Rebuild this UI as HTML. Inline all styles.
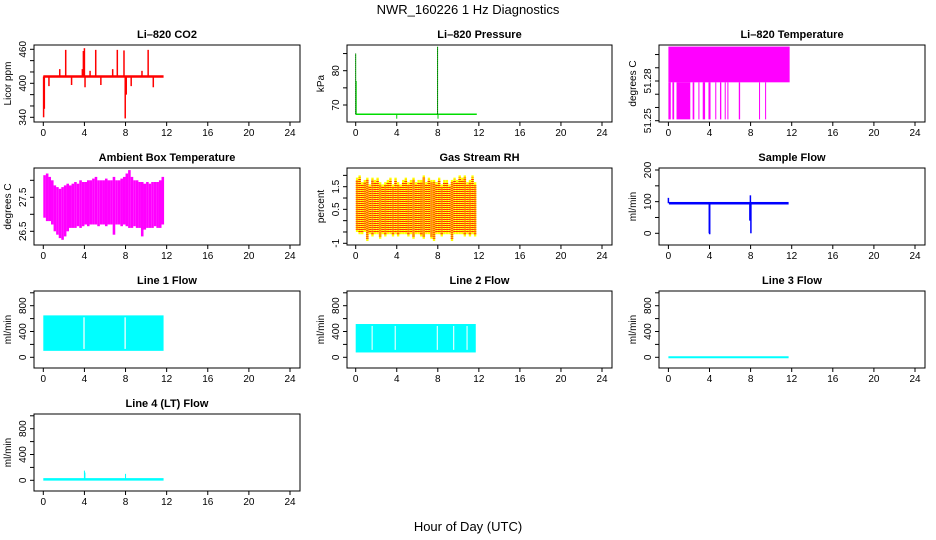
<!DOCTYPE html>
<html><head><meta charset="utf-8">
<style>
body{margin:0;background:#fff}
svg{display:block;font-family:"Liberation Sans",sans-serif}
</style></head>
<body>
<svg id="c" width="936" height="540" viewBox="0 0 936 540">
<text x="468" y="14" text-anchor="middle" font-size="13">NWR_160226  1 Hz Diagnostics</text>
<text x="468" y="531" text-anchor="middle" font-size="13">Hour of Day (UTC)</text>
</svg>
<script>
// ---- data ----
const hourTicks = [0,4,8,12,16,20,24];
const co2Base = 412, co2End = 11.7;
const co2SpikeHours = [2.18,3.9,4.0,5.1,7.2,7.85,10.2,1.6,3.8,4.55,6.75,9.6,0.03,0.1,0.55,2.75,4.06,5.6,7.97,8.07,8.55,10.7];
const co2SpikeValues = [459,457,462,459,459,458,459,425,425,422,425,422,340,355,395,397,393,397,338,380,395,393];
const presBase = 67.3, presEnd = 11.8;
const presSpikeHours = [0.0,0.05,4.0,7.98,8.02];
const presSpikeValues = [85,77,66,87,66];
const tempTop = 51.306, tempBand = 51.279, tempEnd = 11.8, tempLow = 51.251;
const tempDropStart = [0,0.39,0.79,2.36,2.92,3.34,3.9,4.56,5.02,5.48,5.74,6.85,8.82,9.41];
const tempDropEnd =   [0.23,0.56,2.13,2.52,2.97,3.57,4.1,4.61,5.15,5.52,5.79,6.98,8.86,9.45];
const binHours = [0,0.25,0.5,0.75,1,1.25,1.5,1.75,2,2.25,2.5,2.75,3,3.25,3.5,3.75,4,4.25,4.5,4.75,5,5.25,5.5,5.75,6,6.25,6.5,6.75,7,7.25,7.5,7.75,8,8.25,8.5,8.75,9,9.25,9.5,9.75,10,10.25,10.5,10.75,11,11.25,11.5];
const ambMax = [28.15,28.2,28.1,28.0,27.85,27.8,27.75,27.8,27.85,27.9,27.85,27.9,27.95,27.9,28.0,27.95,27.95,28.0,28.0,28.05,28.1,28.0,28.0,28.0,28.05,28.0,28.0,28.1,28.0,28.0,28.05,28.1,28.2,28.3,28.1,28.0,28.0,27.95,27.95,27.9,27.95,27.9,27.95,27.95,27.95,28.0,28.1];
const ambMin = [26.9,26.8,26.8,26.7,26.5,26.4,26.3,26.25,26.35,26.5,26.6,26.6,26.6,26.65,26.6,26.65,26.7,26.65,26.7,26.7,26.7,26.65,26.7,26.7,26.65,26.7,26.7,26.4,26.7,26.7,26.65,26.7,26.65,26.6,26.6,26.65,26.6,26.6,26.35,26.55,26.6,26.6,26.6,26.65,26.6,26.6,26.7];
const rhMax = [1.9,2.0,1.7,1.8,1.9,1.6,1.9,1.8,1.9,1.7,1.6,1.7,1.8,1.9,1.6,1.9,1.7,1.6,1.8,1.9,1.7,1.8,1.9,1.7,1.8,1.8,2.0,1.7,1.9,1.8,1.8,1.7,1.9,1.6,1.8,1.8,1.6,1.8,1.9,1.8,2.0,1.9,2.0,1.7,1.8,2.0,1.7];
const rhMin = [-0.5,-0.6,-0.6,-0.5,-0.9,-0.6,-0.7,-0.6,-0.6,-0.8,-0.6,-0.7,-0.6,-0.6,-0.7,-0.6,-0.7,-0.6,-0.6,-0.6,-0.7,-0.6,-0.8,-0.6,-0.6,-0.7,-0.8,-0.6,-0.6,-0.8,-0.9,-0.6,-0.6,-0.7,-0.6,-0.6,-0.6,-0.9,-0.6,-0.6,-0.6,-0.6,-0.7,-0.6,-0.7,-0.6,-0.7];
const sampleBase = 95, sampleEnd = 11.7;
const sampleSpikeHours = [0.0,3.98,4.02,7.93,7.98,8.03];
const sampleSpikeValues = [112,0,-3,40,120,0];
const line1Min = 100, line1Max = 650, line1End = 11.7;
const line1Gaps = [3.9,7.9];
const line2Min = 75, line2Max = 516, line2End = 11.7;
const line2Gaps = [1.55,3.8,7.9,9.5,10.8];
const line3Value = 0, line3End = 11.7;
const line4Value = 15, line4End = 11.7;
const line4SpikeHours = [4.0,4.05,8.0];
const line4SpikeValues = [150,120,100];

// ---- layout ----
const svg = document.getElementById('c');
const NS = 'http://www.w3.org/2000/svg';
const colBox = [[34,300],[347,612],[659,925]];
const colX0 = [43.3,355.7,668.4];
const colX24 = [290,602,915];
function mk(tag, attrs, parent){
  const e = document.createElementNS(NS, tag);
  for (const k in attrs) e.setAttribute(k, attrs[k]);
  (parent||svg).appendChild(e);
  return e;
}
function panel(col,row,name,title,ylab,yv1,yp1,yv2,yp2,ticks,labels){
  const top = 45 + row*123, bot = 122 + row*123;
  const [bl,br] = colBox[col];
  const g = mk('g',{});
  
  
  const x = h => colX0[col] + (colX24[col]-colX0[col])*h/24;
  const dy = yp2 + row*123, cy = yp1 + row*123;
  const y = v => cy + (v-yv1)*(dy-cy)/(yv2-yv1);
  const t = mk('text',{x:(bl+br)/2,y:top-7,'text-anchor':'middle','font-size':'11','font-weight':'bold'},g);
  t.textContent = title;
  
  
  const yl = mk('text',{x:0,y:0,'text-anchor':'middle','font-size':'10',transform:`translate(${bl-23},${(top+bot)/2}) rotate(-90)`},g);
  yl.textContent = ylab;
  
  
  const plot = mk('g',{},g);
  
  
  const box = mk('rect',{x:bl,y:top,width:br-bl,height:bot-top,fill:'none',stroke:'#000','stroke-width':1},g);
  
  
  mk('line',{x1:x(0),x2:x(24),y1:bot,y2:bot,stroke:'#000'},g);
  hourTicks.forEach(h=>{
    mk('line',{x1:x(h),x2:x(h),y1:bot,y2:bot+4,stroke:'#000'},g);
    const tl = mk('text',{x:x(h),y:bot+14,'text-anchor':'middle','font-size':'10'},g);
    tl.textContent = h;
    
    
  });
  mk('line',{x1:bl,x2:bl,y1:y(ticks[0]),y2:y(ticks[ticks.length-1]),stroke:'#000'},g);
  ticks.forEach(v=>mk('line',{x1:bl-4,x2:bl,y1:y(v),y2:y(v),stroke:'#000'},g));
  labels.forEach(v=>{
    const tl = mk('text',{x:0,y:0,'text-anchor':'middle','font-size':'10',transform:`translate(${bl-8},${y(v)}) rotate(-90)`},g);
    tl.textContent = v;
    
    
  });
  return {x,y,plot};
}
function vline(p,h,v1,v2,color,w){
  return mk('line',{x1:p.x(h),x2:p.x(h),y1:p.y(v1),y2:p.y(v2),stroke:color,'stroke-width':w||1},p.plot);
}
function hseg(p,h1,h2,v,color,w){
  return mk('line',{x1:p.x(h1),x2:p.x(h2),y1:p.y(v),y2:p.y(v),stroke:color,'stroke-width':w||1},p.plot);
}
function block(p,h1,h2,v1,v2,color){
  return mk('rect',{x:p.x(h1),y:Math.min(p.y(v1),p.y(v2)),width:p.x(h2)-p.x(h1),height:Math.abs(p.y(v2)-p.y(v1)),fill:color},p.plot);
}

// CO2
let p = panel(0,0,'co2','Li\u2013820 CO2','Licor ppm',340,117.3,460,49.3,[340,360,380,400,420,440,460],[340,400,460]);
hseg(p,0,co2End,co2Base,'red',2.5);
co2SpikeHours.forEach((h,i)=>vline(p,h,co2Base,co2SpikeValues[i],'red',1.5));
// Pressure
p = panel(1,0,'pressure','Li\u2013820 Pressure','kPa',70,105,80,70.7,[70,75,80,85],[70,80]);
hseg(p,0,presEnd,presBase,'#00dd00',1.5);
presSpikeHours.forEach((h,i)=>{vline(p,h,presBase,presSpikeValues[i],'#00cc00',1);});
vline(p,presSpikeHours[3],presBase,presSpikeValues[3],'#000',0.6).setAttribute('stroke-dasharray','1,1');
vline(p,presSpikeHours[0],presBase,presSpikeValues[0],'#000',0.6).setAttribute('stroke-dasharray','1,1');
// Li-820 temperature
p = panel(2,0,'li820-temperature','Li\u2013820 Temperature','degrees C',51.25,120.7,51.28,81,[51.25,51.26,51.27,51.28,51.29,51.30],[51.25,51.28]);
block(p,0,tempEnd,tempBand,tempTop,'#ff00ff');
tempDropStart.forEach((h,i)=>block(p,h,Math.max(tempDropEnd[i],h+0.1),tempLow,tempBand,'#ff00ff'));
// Ambient
p = panel(0,1,'ambient-temperature','Ambient Box Temperature','degrees C',27.5,197.3-123,26.5,231.3-123,[26.5,27.0,27.5,28.0],[26.5,27.5]);
binHours.forEach((h,i)=>block(p,h,h+0.25,ambMin[i],ambMax[i],'#ff00ff'));
// RH
p = panel(1,1,'gas-stream-rh','Gas Stream RH','percent',1.5,186.7-123,-1.0,243.3-123,[-1.0,-0.5,0,0.5,1.0,1.5,2.0],[-1.0,0.5,1.5]);
binHours.forEach((h,i)=>block(p,h+0.02,h+0.25,rhMin[i],rhMax[i],'#ffff00'));
binHours.forEach((h,i)=>{for(let k=0;k<4;k++){const l=vline(p,h+0.04+k*0.06,rhMin[i]+0.1,rhMax[i]-0.1,'#ff3000',0.8);l.setAttribute('stroke-dasharray','1,1');}});
// Sample flow
p = panel(2,1,'sample-flow','Sample Flow','ml/min',0,233.3-123,200,170-123,[0,50,100,150,200],[0,100,200]);
block(p,0.05,sampleEnd,sampleBase-4,sampleBase+4,'#0000ff');
sampleSpikeHours.forEach((h,i)=>vline(p,h,sampleBase,sampleSpikeValues[i],'#0000ff',1.5));
// Flows
const flowTicks=[0,200,400,600,800,1000], flowLabels=[0,400,800];
p = panel(0,2,'line1-flow','Line 1 Flow','ml/min',0,357.3-246,800,305.7-246,flowTicks,flowLabels);
block(p,0,line1End,line1Min,line1Max,'#00ffff');
line1Gaps.forEach(h=>block(p,h,h+0.12,line1Min+30,line1Max-30,'#fff'));
p = panel(1,2,'line2-flow','Line 2 Flow','ml/min',0,357.3-246,800,305.7-246,flowTicks,flowLabels);
block(p,0,line2End,line2Min,line2Max,'#00ffff');
line2Gaps.forEach(h=>block(p,h,h+0.1,line2Min+40,line2Max-30,'#fff'));
p = panel(2,2,'line3-flow','Line 3 Flow','ml/min',0,357.3-246,800,305.7-246,flowTicks,flowLabels);
hseg(p,0,line3End,line3Value,'#00ffff',2);
p = panel(0,3,'line4-flow','Line 4 (LT) Flow','ml/min',0,357.3-246,800,305.7-246,flowTicks,flowLabels);
hseg(p,0,line4End,line4Value,'#00ffff',2.5);
line4SpikeHours.forEach((h,i)=>vline(p,h,line4Value,line4SpikeValues[i],'#00ffff',1));
</script>
</body></html>
